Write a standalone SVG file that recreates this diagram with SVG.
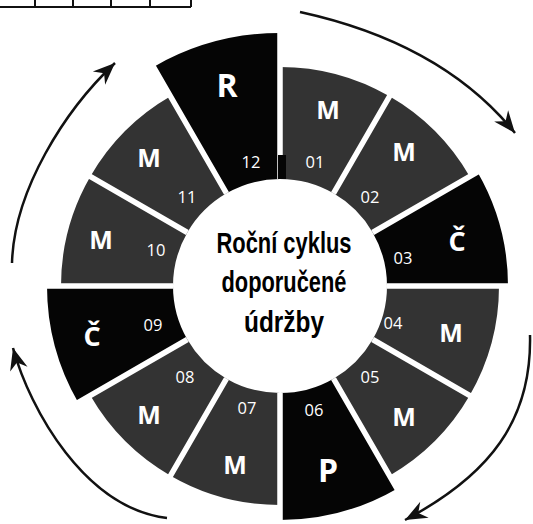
<svg xmlns="http://www.w3.org/2000/svg" width="533" height="524" viewBox="0 0 533 524">
<style>
.gray{fill:#333}
.dark{fill:#050505}
.sep{stroke:#fff;stroke-width:5.5}
.let{font-family:"Open Sans","Noto Sans",sans-serif;font-weight:bold;fill:#fff;text-anchor:middle}
.num{font-family:"Open Sans","Noto Sans",sans-serif;font-size:16.5px;fill:#fff;text-anchor:middle}
.ctr{font-family:"Liberation Sans Narrow","Liberation Sans",sans-serif;font-weight:bold;font-size:29px;fill:#000;text-anchor:middle}
.arr{fill:none;stroke:#111;stroke-width:2.5;marker-end:url(#ah)}
.tbl{stroke:#111;stroke-width:2;fill:none}
</style>
<defs>
<marker id="ah" markerUnits="userSpaceOnUse" viewBox="-24 -11 26 22" markerWidth="26" markerHeight="22" refX="0" refY="0" orient="auto">
<path d="M0,0 L-22,-9 L-15,0 L-22,9 Z" fill="#111"/>
</marker>
</defs>
<g id="table-fragment">
<path class="tbl" d="M0,7 H191 M35,0 V7 M73,0 V7 M111,0 V7 M150,0 V7 M191,0 V7"/>
</g>
<g id="s01"><path class="gray" d="M280,179 L280,67 A219,219 0 0 1 389.5,96.35 L333.5,193.34 A107,107 0 0 0 280,179 Z"/>
<text class="let" x="328" y="119" font-size="25">M</text><text class="num" x="315" y="168">01</text></g>
<g id="s02"><path class="gray" d="M333.5,193.34 L389.5,96.35 A219,219 0 0 1 469.65,176.5 L372.66,232.5 A107,107 0 0 0 333.5,193.34 Z"/>
<text class="let" x="404" y="161" font-size="25">M</text><text class="num" x="370" y="203">02</text></g>
<g id="s03"><path class="dark" d="M372.66,232.5 L477.45,172 A228,228 0 0 1 508,286 L387,286 A107,107 0 0 0 372.66,232.5 Z"/>
<text class="let" x="457" y="251" font-size="27">Č</text><text class="num" x="403" y="264">03</text></g>
<g id="s04"><path class="gray" d="M387,286 L499,286 A219,219 0 0 1 469.65,395.5 L372.66,339.5 A107,107 0 0 0 387,286 Z"/>
<text class="let" x="451" y="342" font-size="25">M</text><text class="num" x="393" y="329">04</text></g>
<g id="s05"><path class="gray" d="M372.66,339.5 L469.65,395.5 A219,219 0 0 1 389.5,475.65 L333.5,378.66 A107,107 0 0 0 372.66,339.5 Z"/>
<text class="let" x="404" y="426" font-size="25">M</text><text class="num" x="370" y="383">05</text></g>
<g id="s06"><path class="dark" d="M333.5,378.66 L397,488.64 A234,234 0 0 1 280,520 L280,393 A107,107 0 0 0 333.5,378.66 Z"/>
<text class="let" x="328" y="482" font-size="32">P</text><text class="num" x="314" y="416">06</text></g>
<g id="s07"><path class="gray" d="M280,393 L280,505 A219,219 0 0 1 170.5,475.65 L226.5,378.66 A107,107 0 0 0 280,393 Z"/>
<text class="let" x="235" y="474" font-size="25">M</text><text class="num" x="247" y="414">07</text></g>
<g id="s08"><path class="gray" d="M226.5,378.66 L170.5,475.65 A219,219 0 0 1 90.35,395.5 L187.34,339.5 A107,107 0 0 0 226.5,378.66 Z"/>
<text class="let" x="149" y="424" font-size="25">M</text><text class="num" x="185" y="383">08</text></g>
<g id="s09"><path class="dark" d="M187.34,339.5 L78.22,402.5 A233,233 0 0 1 47,286 L173,286 A107,107 0 0 0 187.34,339.5 Z"/>
<text class="let" x="92" y="346" font-size="27">Č</text><text class="num" x="153" y="331">09</text></g>
<g id="s10"><path class="gray" d="M173,286 L61,286 A219,219 0 0 1 90.35,176.5 L187.34,232.5 A107,107 0 0 0 173,286 Z"/>
<text class="let" x="101" y="249" font-size="25">M</text><text class="num" x="156" y="256">10</text></g>
<g id="s11"><path class="gray" d="M187.34,232.5 L90.35,176.5 A219,219 0 0 1 170.5,96.35 L226.5,193.34 A107,107 0 0 0 187.34,232.5 Z"/>
<text class="let" x="149" y="167" font-size="25">M</text><text class="num" x="187" y="203">11</text></g>
<g id="s12"><path class="dark" d="M226.5,193.34 L153.5,66.9 A253,253 0 0 1 280,33 L280,179 A107,107 0 0 0 226.5,193.34 Z"/>
<text class="let" x="227" y="97" font-size="32">R</text><text class="num" x="251" y="168">12</text></g>
<g id="separators">
<path class="sep" d="M280,179 V28 M333.5,193.34 L410,60.8 M372.66,232.5 L505,156.1 M387,286 H540 M372.66,339.5 L505,415.9 M333.5,378.66 L410,511.2 M280,393 V530 M226.5,378.66 L150,511.2 M187.34,339.5 L55,415.9 M173,286 H20 M187.34,232.5 L55,156.1 M226.5,193.34 L150,60.8"/>
<rect x="278" y="155" width="8" height="24" fill="#050505"/>
</g>
<g id="center">
<text class="ctr" x="284" y="253" textLength="135" lengthAdjust="spacingAndGlyphs">Roční cyklus</text>
<text class="ctr" x="284" y="292" textLength="125" lengthAdjust="spacingAndGlyphs">doporučené</text>
<text class="ctr" x="284" y="332" textLength="80" lengthAdjust="spacingAndGlyphs">údržby</text>
</g>
<g id="connectors">
<path class="arr" d="M300,12 Q442,43 515,133"/>
<path class="arr" d="M530,335 C532,420 490,475 405,520"/>
<path class="arr" d="M167,518 C85,508 30,410 13,348"/>
<path class="arr" d="M12,263 C14,190 65,110 115,63"/>
</g>
</svg>
